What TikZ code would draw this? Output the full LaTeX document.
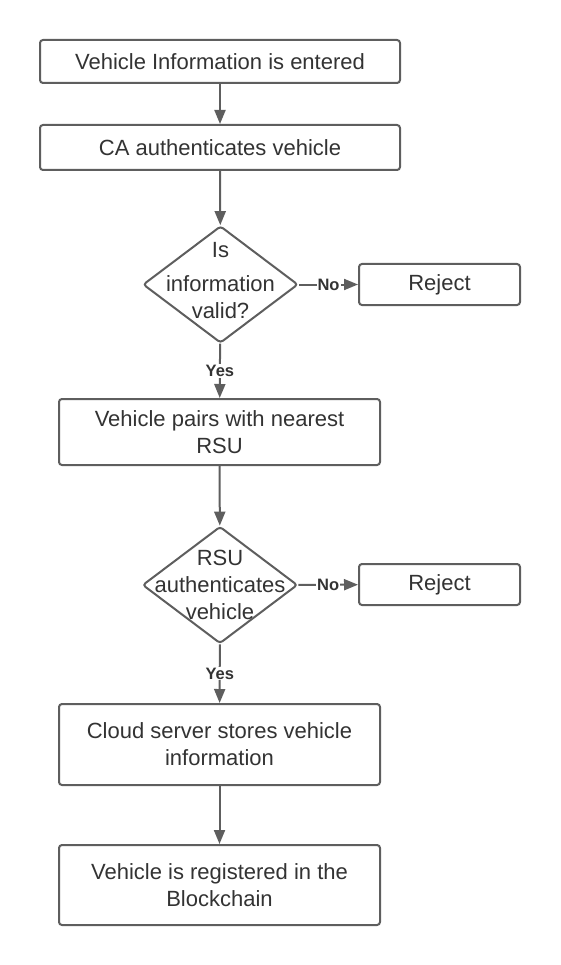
\documentclass[tikz,border=0pt]{standalone}
\usepackage{fontspec}
\setmainfont{Liberation Sans}
\usepackage{tikz}
\usetikzlibrary{arrows.meta,shapes.geometric}
\definecolor{linegray}{HTML}{5E5E5E}
\definecolor{textgray}{HTML}{333333}
\tikzset{
	stepbox/.style={draw=linegray, line width=2pt, rounded corners=3pt, fill=white, text=textgray, align=center, inner sep=0pt, font=\fontsize{22}{27}\selectfont},
	decision/.style={draw=linegray, line width=2pt, rounded corners=3pt, diamond, fill=white, inner sep=0pt, minimum width=155pt, minimum height=117pt},
	dtext/.style={text=textgray, align=center, inner sep=0pt, font=\fontsize{22}{27}\selectfont},
	flow/.style={draw=linegray, line width=2pt, -{Triangle[length=14pt,width=11pt]}},
	answer/.style={fill=white, text=textgray, inner sep=1pt, font=\fontsize{16.5}{18}\selectfont\bfseries},
}

\begin{document}
\begin{tikzpicture}[x=1pt,y=-1pt]
				\useasboundingbox (0,0) rectangle (560,965);
				
				\node[stepbox, minimum width=360pt, minimum height=43pt] (entered) at (220,61.5) {Vehicle Information is entered};
				\node[stepbox, minimum width=360pt, minimum height=45pt] (caauth) at (220,147.5) {CA authenticates vehicle};
				
				\node[decision] (valid) at (220.5,284.5) {};
				\node[dtext] (validtxt) at (220.5,281) {Is\\[7pt]information\\valid?};
				\node[stepbox, minimum width=161pt, minimum height=41pt] (reject1) at (439.5,284.5) {Reject};
				
				\node[stepbox, minimum width=321pt, minimum height=66pt] (pairs) at (219.5,432) {Vehicle pairs with nearest\\RSU};
				
				\node[decision] (rsuauth) at (220,585) {};
				\node[dtext] (rsutxt) at (220,585) {RSU\\authenticates\\vehicle};
				\node[stepbox, minimum width=161pt, minimum height=41pt] (reject2) at (439.5,584.5) {Reject};
				
				\node[stepbox, minimum width=321pt, minimum height=81pt] (cloud) at (219.5,744.5) {Cloud server stores vehicle\\information};
				\node[stepbox, minimum width=321pt, minimum height=80pt] (registered) at (219.5,885) {Vehicle is registered in the\\Blockchain};
				
				\draw[flow] (entered) -- (caauth);
				\draw[flow] (caauth) -- (valid);
				\draw[flow] (valid) -- node[answer] {No} (reject1);
				\draw[flow] (valid) -- node[answer] {Yes} (pairs);
				\draw[flow] (pairs) -- (rsuauth);
				\draw[flow] (rsuauth) -- node[answer] {No} (reject2);
				\draw[flow] (rsuauth) -- node[answer] {Yes} (cloud);
				\draw[flow] (cloud) -- (registered);
			\end{tikzpicture}
\end{document}
